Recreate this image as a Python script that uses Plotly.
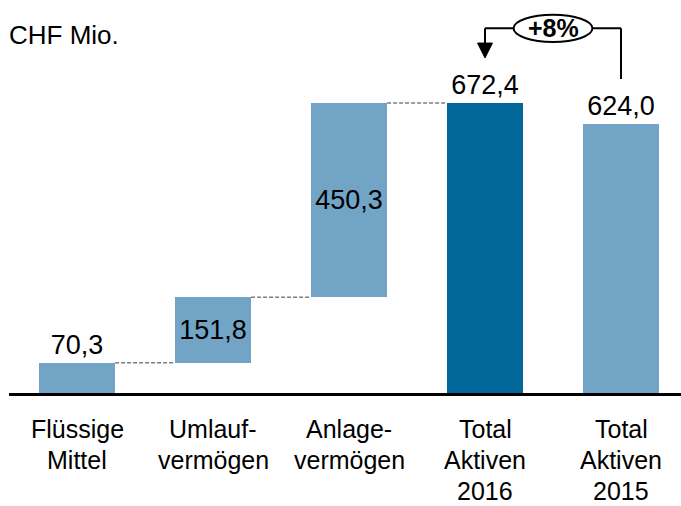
import plotly.graph_objects as go

categories = [["Flüssige", "Mittel"], ["Umlauf-", "vermögen"], ["Anlage-", "vermögen"],
              ["Total", "Aktiven", "2016"], ["Total", "Aktiven", "2015"]]
values = [70.3, 151.8, 450.3, 672.4, 624.0]
labels = ["70,3", "151,8", "450,3", "672,4", "624,0"]
kinds = ["step", "step", "step", "total", "total"]
change_label = "+8%"
unit_label = "CHF Mio."

LIGHT = "#72A4C6"
DARK = "#02679A"
FONT = "Liberation Sans, Arial, sans-serif"

# bases for waterfall
bases = []
running = 0.0
for v, k in zip(values, kinds):
    if k == "step":
        bases.append(running)
        running += v
    else:
        bases.append(0)
colors = [LIGHT, LIGHT, LIGHT, DARK, LIGHT]
textpos = ["outside", "inside", "inside", "outside", "outside"]
xs = list(range(len(values)))
BW = 0.56

fig = go.Figure()
fig.add_trace(go.Bar(
    x=xs, y=values, base=bases, width=BW,
    marker=dict(color=colors, line=dict(width=0)),
    text=labels, textposition=textpos, insidetextanchor="middle",
    textfont=dict(size=27, color="black", family=FONT),
    cliponaxis=False, hoverinfo="skip",
))

shapes = []
# dashed connectors
for i in range(len(values) - 1):
    if kinds[i] == "step":
        level = bases[i] + values[i]
        shapes.append(dict(type="line", xref="x", yref="y",
                           x0=i + BW / 2, x1=i + 1 - BW / 2, y0=level, y1=level,
                           line=dict(color="#7F7F7F", width=1.5, dash="4px,2px")))

# change arrow between total 2015 and total 2016
i16, i15 = 3, 4
v16, v15 = values[i16], values[i15]
top_y = 846
shapes += [
    dict(type="line", xref="x", yref="y", x0=i15, x1=i15, y0=v15 + 104, y1=top_y,
         line=dict(color="black", width=2)),
    dict(type="line", xref="x", yref="y", x0=i16, x1=i15, y0=top_y, y1=top_y,
         line=dict(color="black", width=2)),
    dict(type="line", xref="x", yref="y", x0=i16, x1=i16, y0=top_y, y1=v16 + 137,
         line=dict(color="black", width=2)),
    dict(type="path", xref="x", yref="y",
         path=f"M {i16-0.055},{v16+139} L {i16+0.055},{v16+139} L {i16},{v16+104.5} Z",
         fillcolor="black", line=dict(color="black", width=1)),
    dict(type="circle", xref="x", yref="y",
         x0=(i16 + i15) / 2 - 0.29, x1=(i16 + i15) / 2 + 0.29, y0=814, y1=877,
         fillcolor="white", line=dict(color="black", width=2)),
]

annotations = [
    dict(x=(i16 + i15) / 2, y=845.5, xref="x", yref="y", text=f"<b>{change_label}</b>",
         showarrow=False, font=dict(size=25, color="black", family=FONT)),
    dict(x=0, y=1 - 35 / 393, xref="paper", yref="paper", text=unit_label,
         xanchor="left", yanchor="middle", xshift=-2, showarrow=False,
         font=dict(size=26, color="black", family=FONT)),
]
# category labels, one annotation per line for exact line spacing
for i, lines in enumerate(categories):
    for j, line in enumerate(lines):
        annotations.append(dict(
            x=i, y=0, xref="x", yref="y", text=line, showarrow=False,
            xanchor="center", yanchor="middle", yshift=-(36 + 31 * j),
            font=dict(size=25, color="black", family=FONT)))

fig.update_layout(
    width=681, height=506,
    margin=dict(l=9, r=0, t=0, b=113),
    paper_bgcolor="white", plot_bgcolor="white",
    showlegend=False, bargap=0,
    shapes=shapes, annotations=annotations,
    font=dict(family=FONT, color="black"),
    xaxis=dict(range=[-0.5, -0.5 + 672 / 136], tickvals=xs, showticklabels=False,
               showgrid=False, zeroline=False,
               showline=True, linecolor="black", linewidth=3, ticks=""),
    yaxis=dict(range=[0, 393 / (290 / 672.4)], visible=False, showgrid=False,
               zeroline=False),
)

fig.write_html("out.html", config={"displayModeBar": False},
               post_script="document.body.style.margin='0';")
